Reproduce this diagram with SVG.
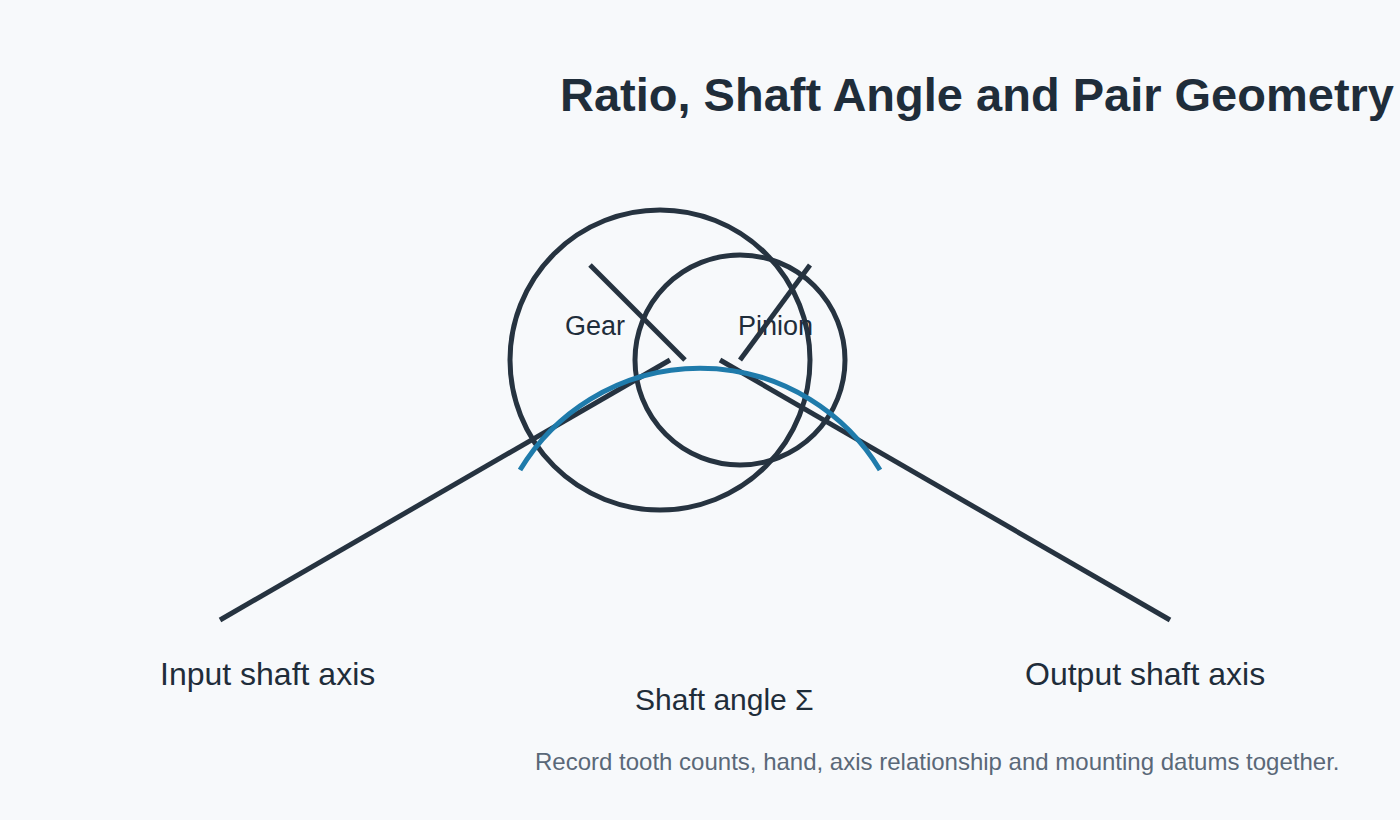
<svg xmlns="http://www.w3.org/2000/svg" width="1400" height="820" viewBox="0 0 1400 820">
<style>
.s{fill:none;stroke:#263340;stroke-width:5}
.t{font-family:"Liberation Sans",Arial,sans-serif;fill:#1f2d3a}
</style>
<rect width="1400" height="820" fill="#f7f9fb"/>
<text class="t" x="560" y="111" font-size="47" font-weight="bold">Ratio, Shaft Angle and Pair Geometry</text>
<g id="gear"><circle class="s" cx="660" cy="360" r="150"/><text class="t" x="565" y="335" font-size="27">Gear</text></g>
<g id="pinion"><circle class="s" cx="740" cy="360" r="105"/><text class="t" x="738" y="335" font-size="27">Pinion</text></g>
<g id="connectors">
<line class="s" x1="590" y1="265" x2="685" y2="360"/>
<line class="s" x1="810" y1="265" x2="740" y2="360"/>
<line class="s" x1="220" y1="620" x2="670" y2="360"/>
<line class="s" x1="720" y1="360" x2="1170" y2="620"/>
<path d="M520 470 A210 210 0 0 1 880 470" fill="none" stroke="#1f7bab" stroke-width="5"/>
</g>
<g id="labels">
<text class="t" x="160" y="685" font-size="32">Input shaft axis</text>
<text class="t" x="1025" y="685" font-size="32">Output shaft axis</text>
<text class="t" x="635" y="710" font-size="30">Shaft angle Σ</text>
<text x="535" y="770" font-size="24" font-family="Liberation Sans,Arial,sans-serif" fill="#5a6878">Record tooth counts, hand, axis relationship and mounting datums together.</text>
</g>
</svg>
